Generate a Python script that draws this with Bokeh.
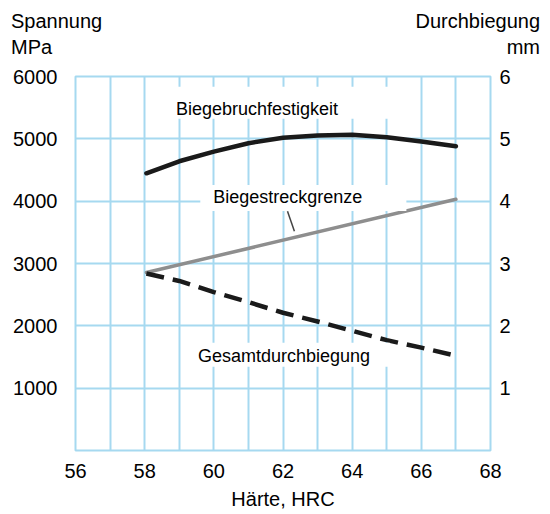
from bokeh.plotting import figure
from bokeh.models import Range1d, LinearAxis, FixedTicker, Label, Div
from bokeh.layouts import column
from bokeh.embed import file_html
from bokeh.resources import INLINE

# ---- data ----
hardness = [58.05, 59, 60, 61, 62, 63, 64, 65, 66, 67]
bruchfestigkeit = [4447, 4640, 4795, 4930, 5016, 5054, 5065, 5027, 4957, 4882]   # MPa
streck_hardness = [58.05, 67]
streckgrenze = [2855, 4030]                                                     # MPa
durchbiegung = [2.84, 2.72, 2.54, 2.38, 2.21, 2.07, 1.92, 1.77, 1.65, 1.52]     # mm

x_ticks = [56, 58, 60, 62, 64, 66, 68]
x_grid = list(range(56, 69))
y_ticks_mpa = [1000, 2000, 3000, 4000, 5000, 6000]
y_grid_mpa = [0, 1000, 2000, 3000, 4000, 5000, 6000]
y_ticks_mm = [1, 2, 3, 4, 5, 6]

label_bruch = "Biegebruchfestigkeit"
label_streck = "Biegestreckgrenze"
label_durch = "Gesamtdurchbiegung"
x_title = "Härte, HRC"
left_title = ["Spannung", "MPa"]
right_title = ["Durchbiegung", "mm"]

FONT = "Liberation Sans"
GRID = "#a6d9f0"
X0, X1, Y0, Y1 = 56, 68, 0, 6000
FRAME_W, FRAME_H = 415, 375

# ---- header with the two axis titles ----
header_html = (
    '<div style="position:relative;width:545px;height:60px;'
    'font-family:\'Liberation Sans\',Arial,sans-serif;font-size:20px;line-height:26px;color:black;">'
    '<div style="position:absolute;left:11px;top:8px;text-align:left;white-space:nowrap;">'
    + "<br>".join(left_title) +
    '</div>'
    '<div style="position:absolute;right:5px;top:8px;text-align:right;white-space:nowrap;">'
    + "<br>".join(right_title) +
    '</div></div>'
)
header = Div(text=header_html, width=545, height=60, margin=(0, 0, 0, 0))

p = figure(width=545, height=452, output_backend="svg", toolbar_location=None,
           x_range=Range1d(X0, X1), y_range=Range1d(Y0, Y1),
           min_border_left=75, min_border_right=55, min_border_top=16, min_border_bottom=61,
           margin=(0, 0, 0, 0))
p.extra_y_ranges = {"mm": Range1d(0, 6)}

p.background_fill_color = "white"
p.border_fill_color = "white"
p.outline_line_color = GRID
p.outline_line_width = 2

p.xgrid.ticker = FixedTicker(ticks=x_grid)
p.ygrid.ticker = FixedTicker(ticks=y_grid_mpa)
for g in (p.xgrid, p.ygrid):
    g.grid_line_color = GRID
    g.grid_line_width = 2
    g.grid_line_alpha = 1.0

def style_axis(ax, standoff):
    ax.axis_line_color = None
    ax.major_tick_line_color = None
    ax.minor_tick_line_color = None
    ax.major_tick_out = 0
    ax.major_tick_in = 0
    ax.major_label_standoff = standoff
    ax.major_label_text_font = FONT
    ax.major_label_text_font_size = "20px"
    ax.major_label_text_color = "black"

style_axis(p.xaxis[0], 13)
p.xaxis[0].ticker = FixedTicker(ticks=x_ticks)
p.xaxis[0].axis_label = x_title
p.xaxis[0].axis_label_text_font = FONT
p.xaxis[0].axis_label_text_font_size = "20px"
p.xaxis[0].axis_label_text_font_style = "normal"
p.xaxis[0].axis_label_text_color = "black"
p.xaxis[0].axis_label_standoff = 7

style_axis(p.yaxis[0], 18)
p.yaxis[0].ticker = FixedTicker(ticks=y_ticks_mpa)

right = LinearAxis(y_range_name="mm", ticker=FixedTicker(ticks=y_ticks_mm))
style_axis(right, 9)
p.add_layout(right, "right")

# ---- curves ----
p.line(hardness, bruchfestigkeit, line_color="#1a1a1a", line_width=4.5,
       line_cap="round", line_join="round")
p.line(streck_hardness, streckgrenze, line_color="#8e8e8e", line_width=3.5, line_cap="round")
p.line(hardness, durchbiegung, y_range_name="mm", line_color="#1a1a1a", line_width=4.5,
       line_dash="18 9")

# leader line from label to Biegestreckgrenze
p.segment(x0=[62.13], y0=[3839], x1=[62.33], y1=[3516], line_color="#444444", line_width=1.5)

# ---- in-plot labels with white boxes (text centre given; box padded unevenly) ----
px_x = (X1 - X0) / FRAME_W
px_y = (Y1 - Y0) / FRAME_H

def in_label(x, y, text, left, right, top, bottom):
    ax = x + (right - left) / 2 * px_x
    ay = y + (top - bottom) / 2 * px_y
    lab = Label(x=ax, y=ay, text=text, text_align="center", text_baseline="middle",
                text_font=FONT, text_font_size="18px", text_color="black",
                background_fill_color="white",
                padding=dict(left=left, right=right, top=top, bottom=bottom))
    p.add_layout(lab)

in_label(61.25, 5484, label_bruch, 30, 50, 12, 0)
in_label(62.14, 4065, label_streck, 13, 44, 2, 4)
in_label(62.03, 1519, label_durch, 10, 20, 3, 1)

layout = column(header, p, spacing=0, margin=(0, 0, 0, 0))
open("out.html", "w").write(file_html(layout, INLINE))
